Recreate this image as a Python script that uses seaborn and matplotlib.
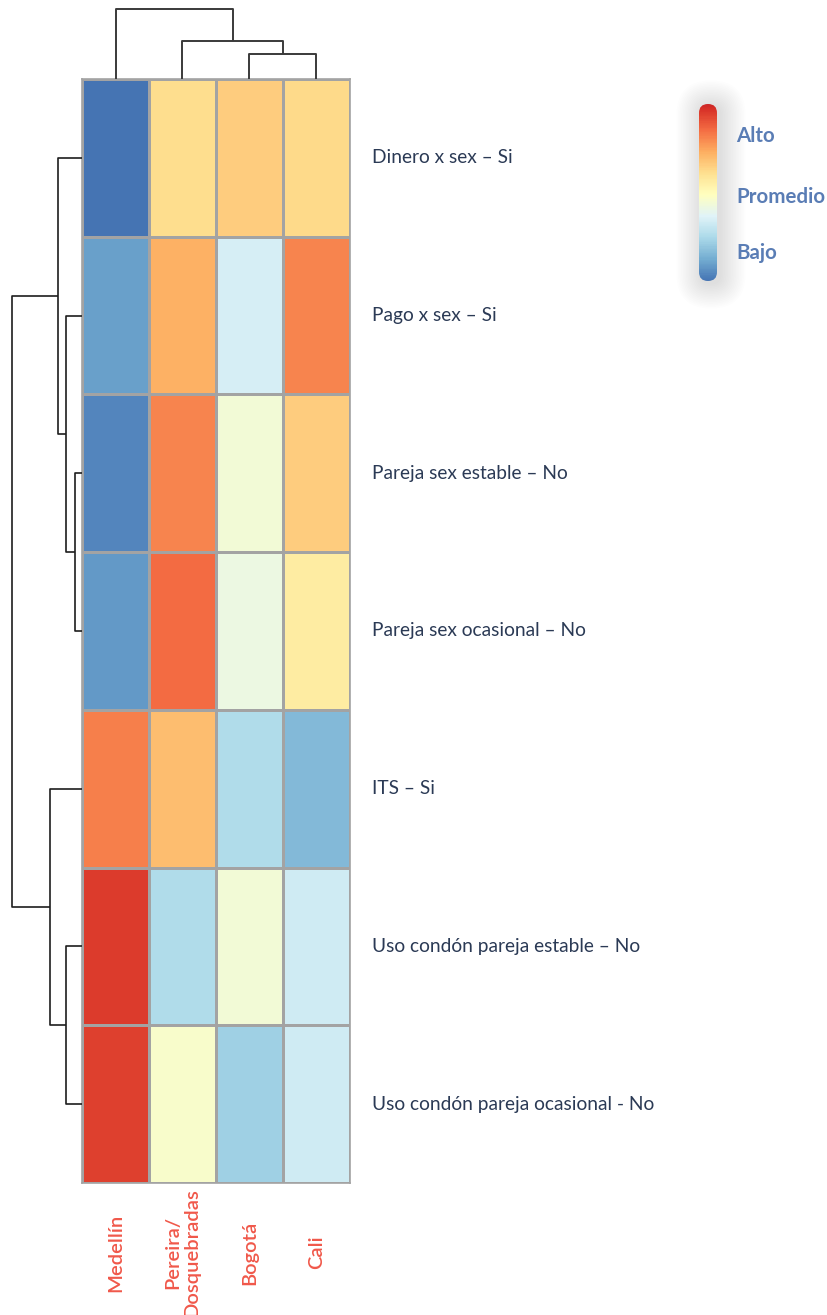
import numpy as np
import pandas as pd
import matplotlib
matplotlib.use("Agg")
import matplotlib.pyplot as plt
from matplotlib.colors import ListedColormap
from matplotlib.patches import FancyBboxPatch
import seaborn as sns

# Cities (columns) and indicators (rows), in dendrogram leaf order
cities = ["Medellín", "Pereira/\nDosquebradas", "Bogotá", "Cali"]
indicators = [
    "Dinero x sex – Si",
    "Pago x sex – Si",
    "Pareja sex estable – No",
    "Pareja sex ocasional – No",
    "ITS – Si",
    "Uso condón pareja estable – No",
    "Uso condón pareja ocasional - No",
]

# Relative level of each indicator per city (0 = low, 1 = high)
medellin = [0.10, 0.18, 0.13, 0.17, 0.77, 0.88, 0.87]
pereira = [0.60, 0.69, 0.76, 0.80, 0.67, 0.31, 0.48]
bogota = [0.64, 0.38, 0.46, 0.44, 0.31, 0.46, 0.28]
cali = [0.61, 0.76, 0.64, 0.56, 0.23, 0.37, 0.37]

# Hierarchical clustering merges: (cluster a, cluster b, distance)
col_merges = [(2, 3, 25), (1, 4, 38), (0, 5, 70)]
row_merges = [(2, 3, 7), (1, 7, 16), (0, 8, 24), (5, 6, 16), (4, 10, 32), (9, 11, 70)]

legend_ticks = [0.78, 0.50, 0.24]
legend_labels = ["Alto", "Promedio", "Bajo"]

VMIN, VMAX = 0.10, 0.92

df = pd.DataFrame({c: v for c, v in zip(cities, [medellin, pereira, bogota, cali])},
                  index=indicators)

# RdYlBu_r restricted to the value range so that v maps to RdYlBu_r(v)
base = plt.get_cmap("RdYlBu_r")
cmap = ListedColormap(base(np.linspace(VMIN, VMAX, 256)))

sns.set_style("white")
plt.rcParams["font.family"] = ["Lato", "DejaVu Sans"]

W, H = 827, 1315
fig = plt.figure(figsize=(W / 100, H / 100), dpi=100)


def px_axes(x0, y0, x1, y1):
    return fig.add_axes([x0 / W, 1 - y1 / H, (x1 - x0) / W, (y1 - y0) / H])


ax = px_axes(82, 79, 350, 1183)
ax_col = px_axes(82, 9, 350, 79)
ax_row = px_axes(12, 79, 82, 1183)
cax = px_axes(699, 104, 717, 281)

sns.heatmap(df, ax=ax, cmap=cmap, vmin=VMIN, vmax=VMAX,
            linewidths=1.0, linecolor="#a3a3a3", cbar_ax=cax)

for s in ax.spines.values():
    s.set_visible(True)
    s.set_color("#a3a3a3")
    s.set_linewidth(1.2)

# Row labels on the right
ax.yaxis.tick_right()
ax.tick_params(axis="y", length=0, pad=16, labelsize=13.8, labelcolor="#2b3a55")
for lbl in ax.get_yticklabels():
    lbl.set_rotation(0)
    lbl.set_va("center")

# Column labels under the heatmap
ax.tick_params(axis="x", length=0, pad=50, labelsize=14.5, labelcolor="#f0584a")
for lbl in ax.get_xticklabels():
    lbl.set_rotation(90)
    lbl.set_va("center")
    lbl.set_ha("center")
    lbl.set_fontweight("semibold")
    lbl.set_linespacing(1.15)
ax.set_xlabel("")
ax.set_ylabel("")


def draw_dendrogram(dax, merges, n, orient):
    pos = {i: i + 0.5 for i in range(n)}
    hgt = {i: 0.0 for i in range(n)}
    for k, (a, b, h) in enumerate(merges):
        p = [pos[a], pos[a], pos[b], pos[b]]
        q = [hgt[a], h, h, hgt[b]]
        if orient == "top":
            dax.plot(p, q, color="#3a3a3a", lw=1.4, clip_on=False, solid_capstyle="butt")
        else:
            dax.plot(q, p, color="#1e1e1e", lw=1.2, clip_on=False, solid_capstyle="butt")
        pos[n + k] = (pos[a] + pos[b]) / 2
        hgt[n + k] = h
    return max(hgt.values())


top_h = draw_dendrogram(ax_col, col_merges, len(cities), "top")
ax_col.set_xlim(0, len(cities))
ax_col.set_ylim(0, top_h)
ax_col.axis("off")

side_h = draw_dendrogram(ax_row, row_merges, len(indicators), "left")
ax_row.set_ylim(len(indicators), 0)
ax_row.set_xlim(side_h, 0)
ax_row.axis("off")

# Colour legend: rounded bar with a soft shadow
cb = ax.collections[0].colorbar
cb.outline.set_visible(False)
cax.patch.set_visible(False)
bb = cax.get_position()
x0, y0 = bb.x0 * W / 100, bb.y0 * H / 100
w, h = bb.width * W / 100, bb.height * H / 100
r = w / 2
for i in range(16, 0, -1):
    g = i * 0.016
    sh = FancyBboxPatch((x0 - g + 0.03, y0 - g - 0.02), w + 2 * g, h + 2 * g,
                        boxstyle=f"round,pad=0,rounding_size={r + g}",
                        transform=fig.dpi_scale_trans, facecolor="#000000",
                        edgecolor="none", alpha=0.006, zorder=0)
    fig.add_artist(sh)
clip = FancyBboxPatch((x0, y0), w, h, boxstyle=f"round,pad=0,rounding_size={r}",
                      transform=fig.dpi_scale_trans, facecolor="none", edgecolor="none")
fig.add_artist(clip)
cb.solids.set_clip_path(clip)
cb.set_ticks(legend_ticks)
cb.set_ticklabels(legend_labels)
cax.tick_params(length=0, pad=14, labelsize=14.8, labelcolor="#5a7db5")
for lbl in cax.get_yticklabels():
    lbl.set_fontweight("bold")

fig.savefig("out.png", dpi=100, facecolor="white")
